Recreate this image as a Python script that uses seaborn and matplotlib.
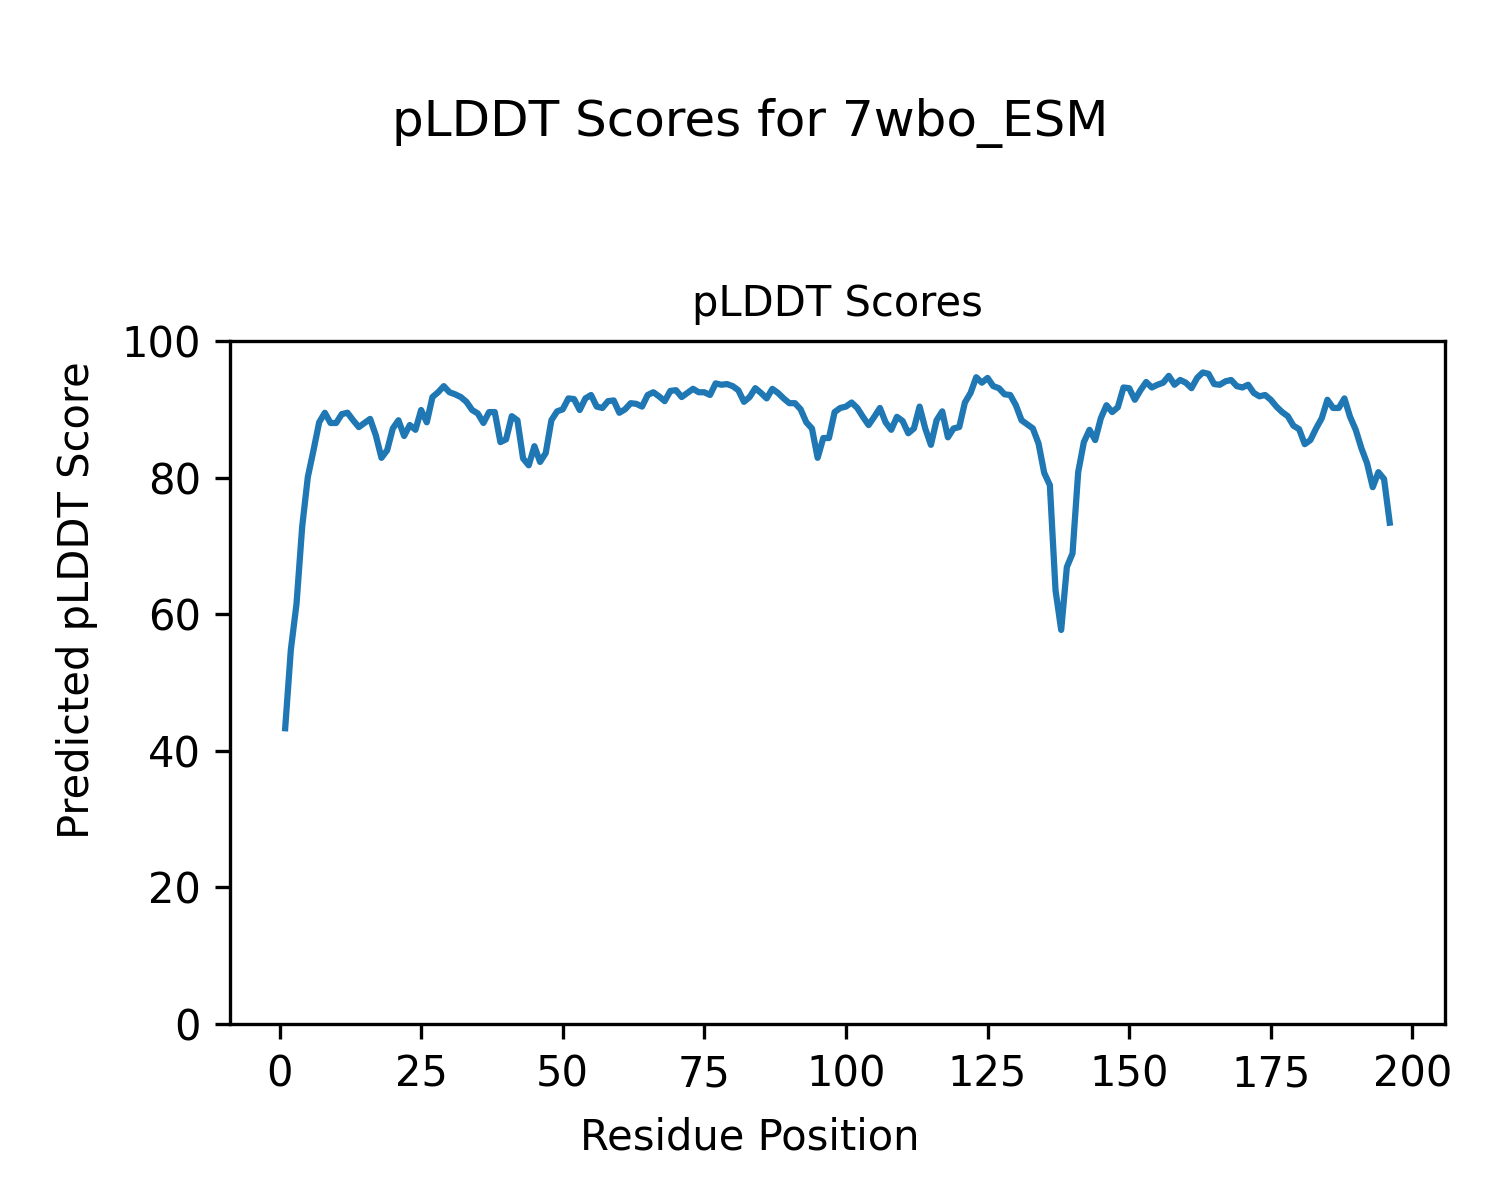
import numpy as np
import pandas as pd
import seaborn as sns
import matplotlib
matplotlib.use("Agg")
import matplotlib.pyplot as plt

scores = [
    43.3, 54.8, 61.5, 72.8, 80.1, 84.0, 88.1, 89.5, 88.0, 88.0,
    89.3, 89.5, 88.4, 87.4, 88.0, 88.6, 86.2, 82.9, 84.0, 87.2,
    88.4, 86.1, 87.7, 87.0, 89.9, 88.1, 91.8, 92.5, 93.4, 92.5,
    92.2, 91.8, 91.1, 89.9, 89.4, 88.0, 89.6, 89.6, 85.2, 85.6,
    89.0, 88.4, 82.8, 81.8, 84.6, 82.3, 83.6, 88.4, 89.7, 90.0,
    91.6, 91.5, 89.9, 91.6, 92.1, 90.4, 90.2, 91.2, 91.3, 89.5,
    90.0, 90.9, 90.8, 90.4, 92.1, 92.5, 91.9, 91.2, 92.7, 92.8,
    91.8, 92.4, 93.0, 92.5, 92.5, 92.1, 93.8, 93.6, 93.7, 93.4,
    92.8, 91.1, 91.8, 93.1, 92.4, 91.6, 93.0, 92.4, 91.6, 90.9,
    90.9, 90.0, 88.1, 87.2, 82.9, 85.8, 85.8, 89.6, 90.2, 90.4,
    91.0, 90.2, 88.9, 87.7, 88.9, 90.2, 88.1, 87.0, 88.9, 88.3,
    86.5, 87.2, 90.4, 87.2, 84.8, 88.4, 89.7, 85.9, 87.2, 87.4,
    91.0, 92.4, 94.7, 93.9, 94.6, 93.4, 93.1, 92.2, 92.1, 90.6,
    88.4, 87.8, 87.2, 85.0, 80.7, 78.9, 63.5, 57.7, 66.9, 68.9,
    80.8, 85.2, 87.0, 85.5, 88.7, 90.6, 89.6, 90.3, 93.2, 93.1,
    91.4, 92.8, 94.0, 93.2, 93.6, 93.9, 94.9, 93.6, 94.3, 93.9,
    93.1, 94.6, 95.4, 95.2, 93.7, 93.6, 94.1, 94.3, 93.4, 93.2,
    93.6, 92.4, 91.9, 92.1, 91.4, 90.4, 89.6, 89.0, 87.6, 87.1,
    84.9, 85.5, 87.2, 88.7, 91.4, 90.2, 90.2, 91.6, 88.9, 87.0,
    84.3, 82.1, 78.6, 80.8, 79.8, 73.4,
]
positions = list(range(1, len(scores) + 1))

df = pd.DataFrame({"Residue Position": positions, "pLDDT": scores})

fig = plt.figure(figsize=(5, 4), dpi=300)
ax = fig.add_axes([0.1533, 0.1467, 0.81, 0.5691])
sns.lineplot(data=df, x="Residue Position", y="pLDDT", ax=ax)
ax.set_ylim(0, 100)
ax.set_title("pLDDT Scores", fontsize=10)
ax.set_xlabel("")
ax.set_ylabel("")
fig.supxlabel("Residue Position", fontsize=10, y=0.0517, va="center")
fig.supylabel("Predicted pLDDT Score", fontsize=10, x=0.0513, ha="center")
fig.suptitle("pLDDT Scores for 7wbo_ESM", y=0.918)
fig.savefig("out.png", dpi=300)
